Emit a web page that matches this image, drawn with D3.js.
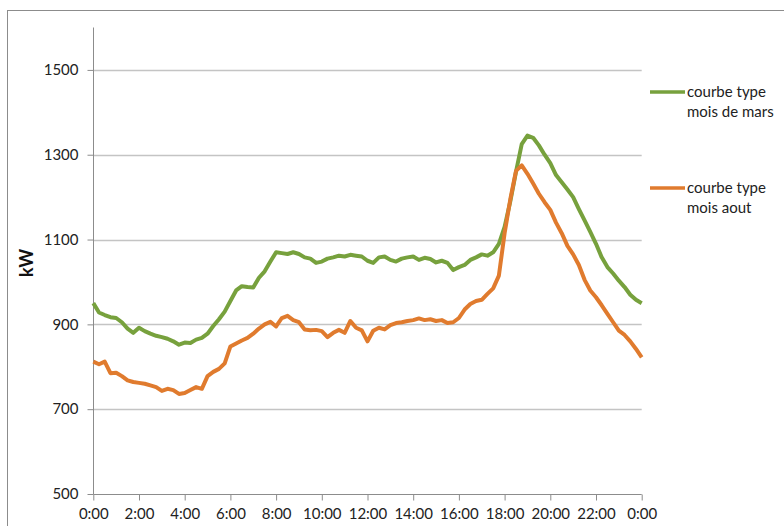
<!DOCTYPE html>
<html>
<head>
<meta charset="utf-8">
<script src="https://cdn.jsdelivr.net/npm/d3@7"></script>
<style>
  html, body { margin: 0; padding: 0; background: #fff; }
  svg { display: block; font-family: Lato, "Liberation Sans", sans-serif; }
</style>
</head>
<body>
<svg id="chart" width="784" height="526"></svg>
<script>
// ---- data (15-minute steps, 0:00 .. 24:00) ----
const hours = d3.range(0, 24.001, 0.25);
const marsValues = [
  950, 928, 922, 917, 915, 905, 890, 880, 892, 884, 878, 873, 870, 866, 860, 852,
  857, 856, 864, 868, 878, 896, 912, 930, 955, 980, 990, 988, 987, 1010, 1025, 1048,
  1070, 1068, 1066, 1070, 1066, 1058, 1055, 1045, 1048, 1055, 1058, 1062, 1060, 1064, 1062, 1060,
  1050, 1045, 1058, 1060, 1052, 1048, 1055, 1058, 1060, 1052, 1057, 1054, 1046, 1050, 1045, 1028,
  1035, 1040, 1052, 1058, 1065, 1062, 1070, 1090, 1130, 1190, 1260, 1325, 1345, 1340, 1322, 1300,
  1280, 1252, 1235, 1218, 1200, 1172, 1145, 1118, 1090, 1058, 1035, 1020, 1003, 988, 970, 958, 950
];
const aoutValues = [
  812, 806, 812, 785, 786, 778, 768, 764, 762, 760, 756, 752, 743, 748, 745, 736,
  738, 745, 752, 748, 778, 788, 795, 808, 848, 855, 862, 868, 878, 890, 900, 906,
  895, 915, 920, 910, 905, 888, 886, 887, 884, 870, 880, 887, 880, 908, 892, 886,
  860, 885, 892, 888, 898, 903, 905, 908, 910, 914, 910, 912, 908, 910, 903, 905,
  915, 935, 948, 955, 958, 972, 985, 1015, 1115, 1195, 1262, 1275, 1255, 1232, 1208, 1188,
  1170, 1140, 1115, 1085, 1065, 1040, 1005, 980, 964, 945, 925, 905, 885, 875, 860, 842, 822
];
const seriesNames = ["courbe type\nmois de mars", "courbe type\nmois aout"];
const seriesColors = ["#77A13D", "#E07B2E"];
const yTicks = [500, 700, 900, 1100, 1300, 1500];
const xTicks = [0, 2, 4, 6, 8, 10, 12, 14, 16, 18, 20, 22, 24];
const yLabel = "kW";

// ---- layout ----
const svg = d3.select("#chart");
const m = { left: 93.3, right: 641.7, top: 27.5, bottom: 494 };

const x = d3.scaleLinear().domain([0, 24]).range([m.left, m.right]);
const y = d3.scaleLinear().domain([500, 1600]).range([m.bottom, m.top]);

// outer frame
svg.append("rect")
  .attr("x", 7.5).attr("y", 10.5).attr("width", 800).attr("height", 540)
  .attr("fill", "none").attr("stroke", "#8C8C8C").attr("stroke-width", 1);

// gridlines
svg.append("g").selectAll("line")
  .data(yTicks.filter(v => v > 500))
  .join("line")
  .attr("x1", m.left).attr("x2", m.right)
  .attr("y1", d => Math.round(y(d)) + 0.5).attr("y2", d => Math.round(y(d)) + 0.5)
  .attr("stroke", "#C4C4C4").attr("stroke-width", 1.3);

// y axis
const yAxis = d3.axisLeft(y).tickValues(yTicks).tickSize(6).tickPadding(9)
  .tickFormat(d3.format("d"));
const gy = svg.append("g").attr("transform", `translate(${Math.round(m.left) + 0.5},0)`).call(yAxis);
gy.select(".domain").attr("stroke", "#8C8C8C").attr("d", `M-0,${m.top}V${m.bottom}`);
gy.selectAll(".tick line").attr("stroke", "#8C8C8C");
gy.selectAll(".tick text").attr("fill", "#222").style("font-size", "15px")
  .style("font-family", "Lato, 'Liberation Sans', sans-serif");

// x axis
const xAxis = d3.axisBottom(x).tickValues(xTicks).tickSize(6).tickPadding(8)
  .tickFormat(d => `${d % 24}:00`);
const gx = svg.append("g").attr("transform", `translate(0,${Math.round(m.bottom) + 0.5})`).call(xAxis);
gx.select(".domain").attr("stroke", "#8C8C8C").attr("d", `M${m.left},0H${m.right}`);
gx.selectAll(".tick line").attr("stroke", "#8C8C8C");
gx.selectAll(".tick text").attr("fill", "#222").style("font-size", "15px")
  .style("font-family", "Lato, 'Liberation Sans', sans-serif");

// y label
svg.append("text")
  .attr("transform", `translate(33,263) rotate(-90)`)
  .attr("text-anchor", "middle")
  .style("font-size", "18px").style("font-weight", "bold").attr("fill", "#111")
  .text(yLabel);

// lines
const line = d3.line().x((d, i) => x(hours[i])).y(d => y(d)).curve(d3.curveLinear);
[marsValues, aoutValues].forEach((vals, k) => {
  svg.append("path").datum(vals)
    .attr("d", line)
    .attr("fill", "none")
    .attr("stroke", seriesColors[k])
    .attr("stroke-width", 4)
    .attr("stroke-linejoin", "round");
});

// legend
const legendY = [92, 188];
seriesNames.forEach((name, k) => {
  const g = svg.append("g");
  g.append("line").attr("x1", 650).attr("x2", 685)
    .attr("y1", legendY[k]).attr("y2", legendY[k])
    .attr("stroke", seriesColors[k]).attr("stroke-width", 3.5);
  const t = g.append("text").attr("x", 687).attr("y", legendY[k] + 5)
    .style("font-size", "15px").attr("fill", "#222");
  name.split("\n").forEach((ln, j) => {
    t.append("tspan").attr("x", 687).attr("dy", j === 0 ? 0 : 20).text(ln);
  });
});
</script>
</body>
</html>
